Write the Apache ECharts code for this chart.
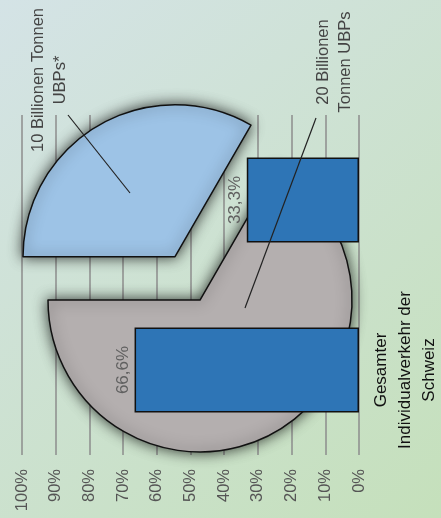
<!DOCTYPE html>
<html>
<head>
<meta charset="utf-8">
<script src="https://cdn.jsdelivr.net/npm/echarts@6/dist/echarts.min.js"></script>
<style>
html,body{margin:0;padding:0;}
#c{width:441px;height:518px;}
</style>
</head>
<body>
<div id="c"></div>
<script>
// ---- data ----
var categories = ['Gesamter\nIndividualverkehr der\nSchweiz', 'Food Waste der\nSchweiz'];
var barValues = [66.6, 33.3];
var barLabels = ['66,6%', '33,3%'];
var pieNames = ['10 Billionen Tonnen\nUBPs*', '20 Billionen\nTonnen UBPs'];
var pieValues = [33.3, 66.6];
var tickValues = [0, 10, 20, 30, 40, 50, 60, 70, 80, 90, 100];

var FONT = "'Liberation Sans', Arial, sans-serif";

var chart = echarts.init(document.getElementById('c'), null, {renderer: 'canvas'});
var option = {
  animation: false,
  backgroundColor: {
    type: 'linear', x: 0, y: 0, x2: 1, y2: 1,
    colorStops: [{offset: 0, color: '#d4e3e6'}, {offset: 1, color: '#c5e0bb'}]
  },
  grid: {left: 22, right: 80, top: 115, bottom: 63, containLabel: false},
  xAxis: {
    type: 'value', min: 0, max: 100, interval: 10, inverse: true,
    axisLine: {show: false}, axisTick: {show: false},
    splitLine: {show: true, lineStyle: {color: '#8c8c8c', width: 1.5}},
    axisLabel: {
      rotate: 90, margin: 14, color: '#555', fontSize: 16.5, fontFamily: FONT,
      formatter: function (v) { return tickValues.indexOf(v) >= 0 ? v + '%' : ''; }
    }
  },
  yAxis: {
    type: 'category', data: categories, position: 'right',
    axisLine: {show: false}, axisTick: {show: false}, splitLine: {show: false},
    axisLabel: {
      rotate: 90, margin: 10, color: '#111', fontSize: 17, fontFamily: FONT,
      lineHeight: 24, align: 'center', verticalAlign: 'top'
    }
  },
  series: [
    {
      type: 'pie', z: 1, center: [200, 300], radius: 152,
      startAngle: 180, clockwise: true,
      selectedMode: 'single', selectedOffset: 50,
      label: {show: false}, labelLine: {show: false},
      emphasis: {disabled: true},
      itemStyle: {borderColor: '#111', borderWidth: 1.5, shadowBlur: 14, shadowColor: 'rgba(0,0,0,0.75)'},
      data: [
        {value: pieValues[0], name: pieNames[0], selected: true, itemStyle: {color: '#9dc3e6'}},
        {value: pieValues[1], name: pieNames[1], itemStyle: {color: '#b4afaf'}}
      ]
    },
    {
      type: 'bar', z: 3, barWidth: '50%',
      data: barValues,
      itemStyle: {color: '#2e75b6', borderColor: '#111', borderWidth: 1.5},
      label: {
        show: true, position: 'left', distance: 3, rotate: 90,
        align: 'center', verticalAlign: 'bottom',
        color: '#606060', fontSize: 17, fontFamily: FONT,
        formatter: function (p) { return barLabels[p.dataIndex]; }
      }
    }
  ],
  graphic: [
    {type: 'line', z: 100, shape: {x1: 130, y1: 193, x2: 68, y2: 115}, style: {stroke: '#222', lineWidth: 1.2}},
    {type: 'line', z: 100, shape: {x1: 245, y1: 308, x2: 316, y2: 118}, style: {stroke: '#222', lineWidth: 1.2}},
    {type: 'text', z: 100, x: 49, y: 80, rotation: Math.PI / 2,
      style: {text: pieNames[0], fill: '#444', font: '16.5px ' + FONT, align: 'center', verticalAlign: 'middle', lineHeight: 22}},
    {type: 'text', z: 100, x: 334, y: 62, rotation: Math.PI / 2,
      style: {text: pieNames[1], fill: '#444', font: '16.5px ' + FONT, align: 'center', verticalAlign: 'middle', lineHeight: 22}}
  ]
};
chart.setOption(option);
</script>
</body>
</html>
